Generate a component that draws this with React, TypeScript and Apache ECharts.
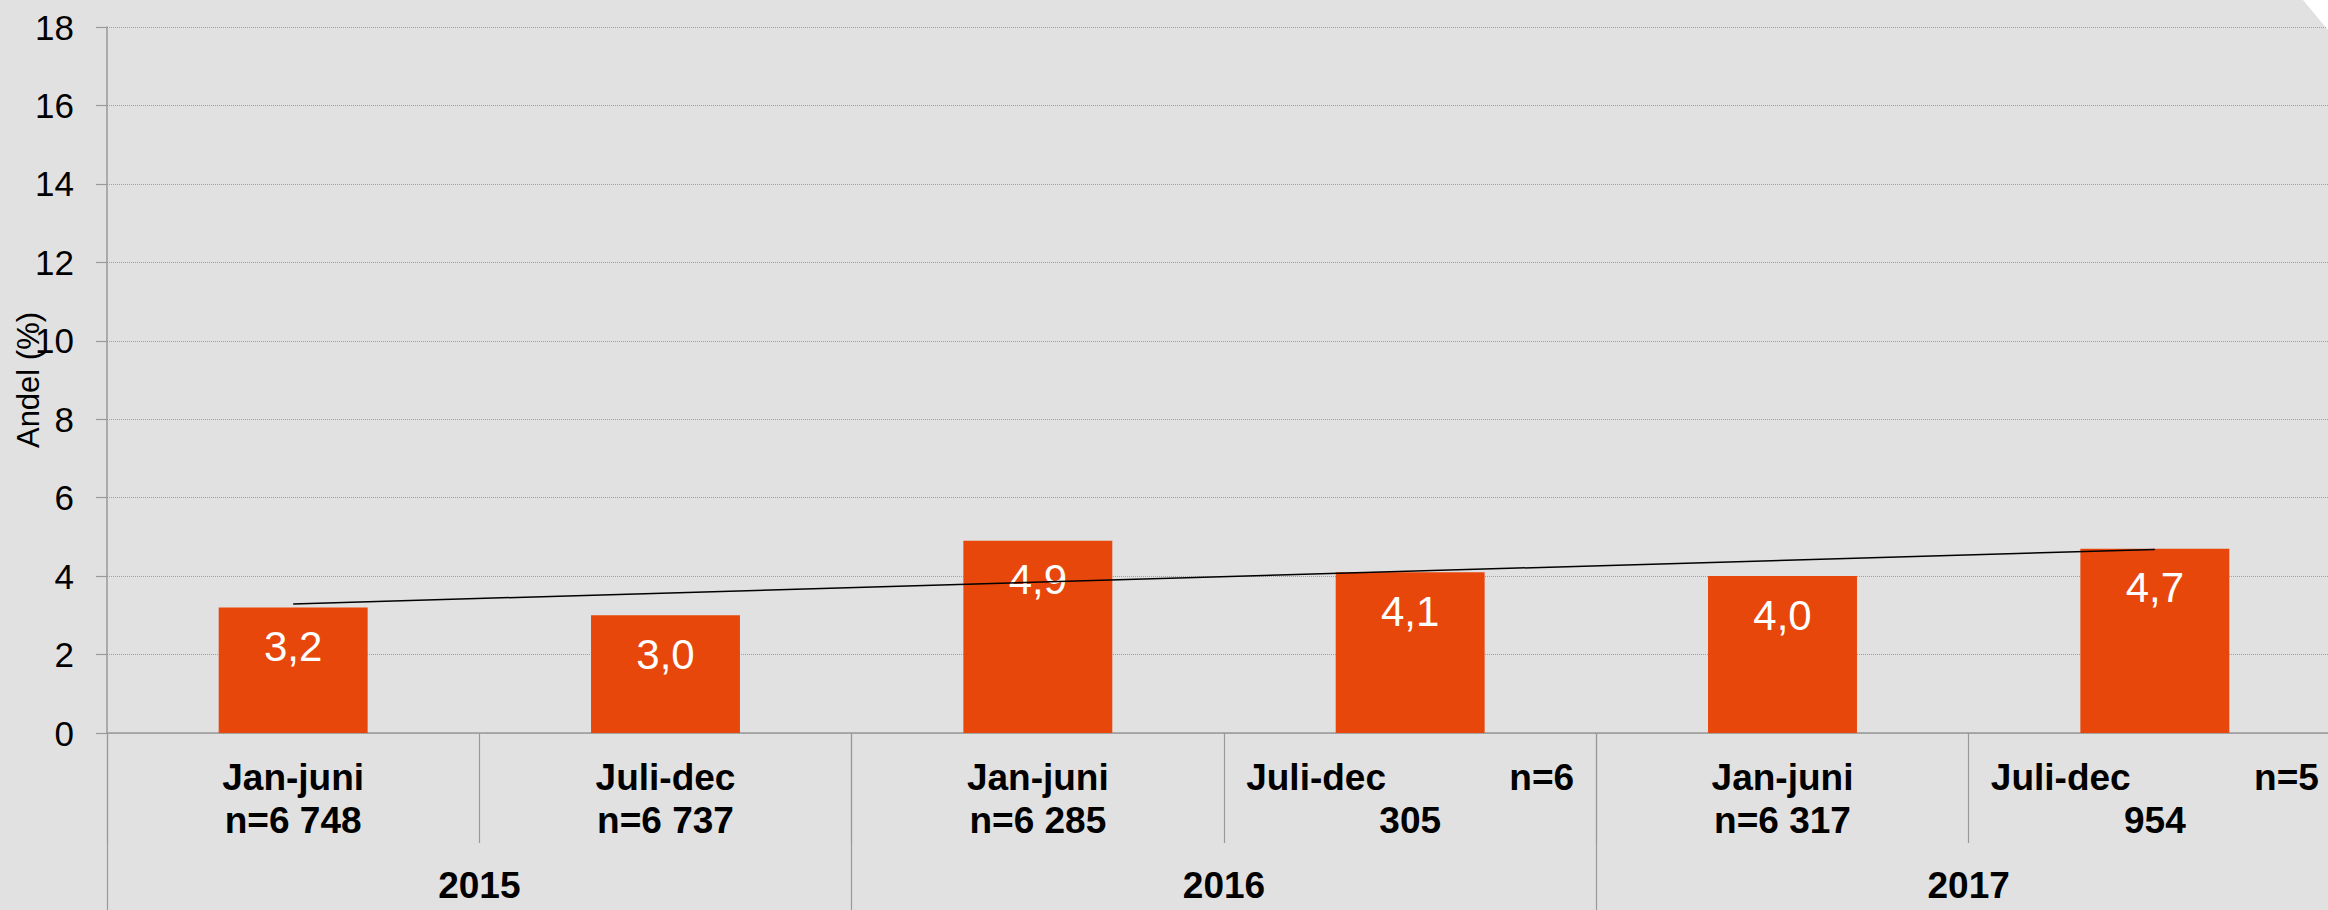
import React, { useEffect, useRef } from "react";
import * as echarts from "echarts";

// ---- data ----
const periods: string[] = [
  "Jan-juni\nn=6 748",
  "Juli-dec\nn=6 737",
  "Jan-juni\nn=6 285",
  "Juli-dec n=6\n305",
  "Jan-juni\nn=6 317",
  "Juli-dec n=5\n954",
];
const years: string[] = ["2015", "2016", "2017"];
const shares: number[] = [3.2, 3.0, 4.9, 4.1, 4.0, 4.7];
// linear trend line end points (first and last period)
const trend: (number | string)[] = [3.29, "-", "-", "-", "-", 4.68];
const yTicks = { min: 0, max: 18, interval: 2 };
const yAxisName = "Andel (%)";

const FONT = "'Liberation Sans', Arial, sans-serif";
const AXIS_GRAY = "#999999";

export default function App() {
  const ref = useRef<HTMLDivElement>(null);

  useEffect(() => {
    if (!ref.current) return;
    const chart = echarts.init(ref.current, undefined, { renderer: "svg" });

    const labelBase = {
      fontFamily: FONT,
      fontSize: 37,
      fontWeight: "bold" as const,
      color: "#000",
      lineHeight: 43,
    };

    const gridBox = {
      left: 107,
      right: -13,
      top: 27,
      bottom: 177,
      containLabel: false,
      outerBoundsMode: "none",
    };

    const option: any = {
      animation: false,
      backgroundColor: "#e1e1e1",
      grid: [{ ...gridBox }, { ...gridBox }],
      xAxis: [
        {
          type: "category",
          gridIndex: 0,
          data: periods,
          boundaryGap: true,
          axisLine: { show: true, lineStyle: { color: AXIS_GRAY, width: 1.5 } },
          axisTick: {
            show: true,
            interval: 0,
            inside: false,
            length: 110,
            lineStyle: { color: AXIS_GRAY, width: 1.2 },
          },
          axisLabel: {
            interval: 0,
            margin: 23,
            ...labelBase,
            formatter: (val: string) => {
              const [l1, l2] = val.split("\n");
              const m = l1.match(/^(.*\S)\s+(n=\S+)$/);
              if (m) return `{l|${m[1]}}{r|${m[2]}}\n{c|${l2}}`;
              return `{c|${l1}}\n{c|${l2}}`;
            },
            rich: {
              l: { ...labelBase, width: 164, align: "left" },
              r: { ...labelBase, width: 164, align: "right" },
              c: { ...labelBase, align: "center" },
            },
          },
          splitLine: { show: false },
        },
        {
          type: "category",
          gridIndex: 1,
          data: years,
          boundaryGap: true,
          axisLine: { show: false },
          axisTick: {
            show: true,
            interval: 0,
            inside: false,
            length: 177,
            lineStyle: { color: AXIS_GRAY, width: 1.2 },
          },
          axisLabel: { interval: 0, margin: 131, ...labelBase },
          splitLine: { show: false },
        },
      ],
      yAxis: [
        {
          type: "value",
          gridIndex: 0,
          min: yTicks.min,
          max: yTicks.max,
          interval: yTicks.interval,
          name: yAxisName,
          nameLocation: "middle",
          nameGap: 63,
          nameMoveOverlap: false,
          nameTextStyle: { fontFamily: FONT, fontSize: 31, color: "#000" },
          axisLine: { show: true, lineStyle: { color: AXIS_GRAY, width: 1.5 } },
          axisTick: { show: true, inside: false, length: 11, lineStyle: { color: AXIS_GRAY, width: 1.2 } },
          axisLabel: { fontFamily: FONT, fontSize: 35, color: "#000", margin: 33 },
          splitLine: { show: true, lineStyle: { color: "#a0a0a0", width: 1, type: "dotted" } },
        },
        { type: "value", gridIndex: 1, show: false, min: 0, max: 18 },
      ],
      series: [
        {
          type: "bar",
          xAxisIndex: 0,
          yAxisIndex: 0,
          data: shares,
          barWidth: "40%",
          itemStyle: { color: "#e8470b" },
          label: {
            show: true,
            position: "insideTop",
            distance: 18,
            fontFamily: FONT,
            fontSize: 42,
            lineHeight: 42,
            color: "#ffffff",
            formatter: (p: any) => Number(p.value).toFixed(1).replace(".", ","),
          },
          z: 2,
        },
        {
          type: "line",
          xAxisIndex: 0,
          yAxisIndex: 0,
          data: trend,
          connectNulls: true,
          symbol: "none",
          silent: true,
          lineStyle: { color: "#000000", width: 1.5 },
          z: 5,
        },
      ],
      graphic: [
        {
          type: "polygon",
          shape: { points: [[2303, 0], [2328, 0], [2328, 30]] },
          style: { fill: "#ffffff" },
          silent: true,
          z: 100,
        },
      ],
    };

    chart.setOption(option);
    return () => chart.dispose();
  }, []);

  return (
    <div
      ref={ref}
      style={{ position: "fixed", left: 0, top: 0, width: 2328, height: 910 }}
    />
  );
}
